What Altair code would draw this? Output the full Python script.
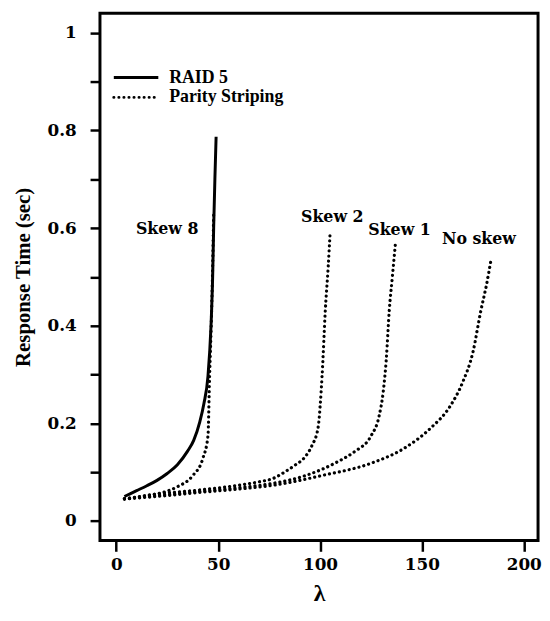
import altair as alt
import pandas as pd

# ---- data ----
raid5_x = [4, 10, 15, 20, 25, 30, 35, 38, 41, 43, 45, 46.5, 47.3, 47.8, 48.4, 49]
raid5_y = [0.05, 0.062, 0.072, 0.083, 0.097, 0.115, 0.143, 0.165, 0.203, 0.24, 0.296, 0.40, 0.5, 0.6, 0.7, 0.787]

skew8_x = [4, 10, 15, 21.7, 30, 37.6, 42.5, 45, 45.8, 46.6, 47.2, 47.8]
skew8_y = [0.045, 0.048, 0.052, 0.057, 0.07, 0.093, 0.128, 0.174, 0.296, 0.4, 0.5, 0.63]

skew2_x = [4, 20, 40, 60, 70, 77, 83, 88, 92, 96, 99, 101, 102.6, 104, 105]
skew2_y = [0.045, 0.055, 0.063, 0.073, 0.08, 0.087, 0.101, 0.115, 0.128, 0.154, 0.19, 0.296, 0.432, 0.52, 0.594]

skew1_x = [4, 20, 40, 60, 77, 93, 109, 117, 125, 129, 131, 132.5, 134, 135.5, 137]
skew1_y = [0.045, 0.052, 0.06, 0.068, 0.077, 0.093, 0.122, 0.142, 0.174, 0.215, 0.264, 0.33, 0.432, 0.5, 0.568]

noskew_x = [4, 20, 40, 60, 77, 101, 125, 141, 154, 164, 170, 175, 179, 182, 184]
noskew_y = [0.045, 0.05, 0.058, 0.065, 0.073, 0.093, 0.118, 0.148, 0.189, 0.236, 0.284, 0.345, 0.432, 0.49, 0.537]

label_text = ["Skew 8", "Skew 2", "Skew 1", "No skew"]
label_x = [25, 106, 139, 178]
label_y = [0.598, 0.623, 0.596, 0.578]

legend_labels = ["RAID 5", "Parity Striping"]

x_ticks = [0, 50, 100, 150, 200]
y_ticks = [round(i * 0.1, 1) for i in range(11)]

FONT = "Liberation Serif"
FONT2 = "DejaVu Serif"

raid_df = pd.DataFrame({"x": raid5_x, "y": raid5_y})
par_rows = []
for name, xs, ys in [("Skew 8", skew8_x, skew8_y), ("Skew 2", skew2_x, skew2_y),
                     ("Skew 1", skew1_x, skew1_y), ("No skew", noskew_x, noskew_y)]:
    for i, (a, b) in enumerate(zip(xs, ys)):
        par_rows.append({"series": name, "x": a, "y": b, "i": i})
par_df = pd.DataFrame(par_rows)
lab_df = pd.DataFrame({"x": label_x, "y": label_y, "t": label_text})

xscale = alt.Scale(domain=[-8, 207], nice=False, zero=False)
yscale = alt.Scale(domain=[-0.04, 1.04], nice=False, zero=False)

xenc = alt.X("x:Q", scale=xscale, title="λ",
             axis=alt.Axis(values=x_ticks, grid=False, domain=False, tickSize=11, tickWidth=2.5,
                           tickColor="black", labelFont=FONT2, labelFontSize=17, labelFontWeight="bold",
                           labelColor="black", labelPadding=5, labelOverlap=False, labelBound=False,
                           titleFont=FONT, titleFontSize=24,
                           titleFontWeight="bold", titleColor="black", titlePadding=10))
yenc = alt.Y("y:Q", scale=yscale, title="Response Time (sec)",
             axis=alt.Axis(values=y_ticks, grid=False, domain=False, tickSize=10, tickWidth=2.5,
                           tickColor="black", labelExpr="round(datum.value*10) % 2 == 0 ? format(datum.value, '~g') : ''",
                           labelFont=FONT2, labelFontSize=17, labelFontWeight="bold",
                           labelColor="black", labelPadding=14, titleFont=FONT, titleFontSize=21,
                           titleFontWeight="bold", titleColor="black", titlePadding=14))

raid = alt.Chart(raid_df).mark_line(color="black", strokeWidth=3, interpolate="monotone").encode(
    x=xenc, y=yenc)

par = alt.Chart(par_df).mark_line(color="black", strokeWidth=3.2, strokeDash=[0.1, 5], strokeCap="round",
                                  interpolate="monotone").encode(
    x="x:Q", y="y:Q", detail="series:N", order="i:Q")

labels = alt.Chart(lab_df).mark_text(font=FONT2, fontSize=16, fontWeight="bold", color="black").encode(
    x="x:Q", y="y:Q", text="t:N")

leg_solid = alt.Chart(pd.DataFrame({"t": [legend_labels[0]]})).mark_rule(color="black", strokeWidth=3).encode(
    x=alt.value(14), x2=alt.value(59), y=alt.value(65))
leg_dot = alt.Chart(pd.DataFrame({"t": [legend_labels[1]]})).mark_rule(
    color="black", strokeWidth=3, strokeDash=[0.1, 5], strokeCap="round").encode(
    x=alt.value(14), x2=alt.value(59), y=alt.value(85))
leg_text = alt.Chart(pd.DataFrame({"t": legend_labels, "py": [65, 85]})).mark_text(
    font=FONT, fontSize=18, fontWeight="bold", color="black", align="left", baseline="middle").encode(
    x=alt.value(70), y=alt.Y("py:Q", scale=None), text="t:N")

chart = alt.layer(raid, par, labels, leg_solid, leg_dot, leg_text).properties(
    width=443, height=533,
    autosize=alt.AutoSizeParams(type="none"),
    padding={"left": 93, "top": 2, "right": 4, "bottom": 68},
).configure(background="white", view=alt.ViewConfig(stroke="black", strokeWidth=3))

chart.save("out.html", embed_options={"renderer": "svg", "actions": False})
